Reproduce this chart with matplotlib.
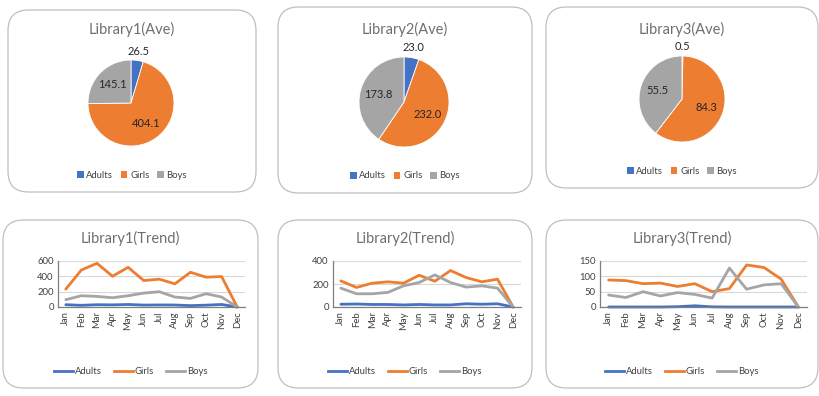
import matplotlib
matplotlib.use("Agg")
import matplotlib.pyplot as plt
import numpy as np
from matplotlib.patches import FancyBboxPatch, Patch
from matplotlib.lines import Line2D

plt.rcParams['font.family'] = ['Lato', 'DejaVu Sans']

W, H = 820, 396

series_names = ["Adults", "Girls", "Boys"]
colors = ["#4472C4", "#ED7D31", "#A5A5A5"]
months = ["Jan", "Feb", "Mar", "Apr", "May", "Jun", "Jul", "Aug", "Sep", "Oct", "Nov", "Dec"]

pie_titles = ["Library1(Ave)", "Library2(Ave)", "Library3(Ave)"]
lib1_ave = [26.5, 404.1, 145.1]
lib2_ave = [23.0, 232.0, 173.8]
lib3_ave = [0.5, 84.3, 55.5]

trend_titles = ["Library1(Trend)", "Library2(Trend)", "Library3(Trend)"]
lib1_adults = [30, 22, 30, 28, 33, 25, 27, 26, 18, 24, 33, 0]
lib1_girls = [233, 483, 570, 401, 518, 345, 363, 302, 453, 389, 397, 0]
lib1_boys = [95, 147, 138, 121, 147, 181, 199, 130, 112, 173, 130, 0]

lib2_adults = [24, 26, 22, 22, 18, 22, 18, 18, 28, 24, 28, 0]
lib2_girls = [227, 170, 207, 219, 207, 276, 224, 317, 256, 219, 242, 0]
lib2_boys = [164, 115, 115, 127, 184, 213, 279, 213, 173, 184, 164, 0]

lib3_adults = [0, 0, 0, 0, 1, 4, 0.5, 0, 0, 0, 0, 0]
lib3_girls = [88, 86, 76, 78, 67, 76, 50, 60, 137, 129, 91, 0]
lib3_boys = [39, 31, 50, 36, 47, 41, 29, 127, 58, 72, 76, 0]

y_ticks = [[0, 200, 400, 600], [0, 200, 400], [0, 50, 100, 150]]

fig = plt.figure(figsize=(W / 100, H / 100), dpi=100)
fig.patch.set_facecolor("white")

def rect(x, y, w, h):
    return [x / W, 1 - (y + h) / H, w / W, h / H]

def box(x, y, w, h):
    p = FancyBboxPatch((x / W, 1 - (y + h) / H), w / W, h / H,
                       boxstyle="round,pad=0,rounding_size=0.025",
                       transform=fig.transFigure, facecolor="white",
                       edgecolor="#BFBFBF", linewidth=0.9, mutation_aspect=W / H,
                       zorder=-10)
    fig.add_artist(p)

title_col = "#6f6f6f"
text_col = "#404040"

top_boxes = [(8, 10, 248, 182), (278, 7, 254, 186), (546, 7, 272, 181)]
bot_boxes = [(3, 220, 255, 168), (278, 220, 254, 168), (546, 220, 272, 168)]
for b in top_boxes + bot_boxes:
    box(*b)

# pies
pie_data = [lib1_ave, lib2_ave, lib3_ave]
pie_centers = [(131, 103, 43), (404, 102, 45), (682, 99, 43)]
for i in range(3):
    cx, cy, r = pie_centers[i]
    bx, by, bw, bh = top_boxes[i]
    fig.text((bx + bw / 2) / W, 1 - 29 / H, pie_titles[i], ha="center", va="center",
             fontsize=10.5, color=title_col)
    ax = fig.add_axes(rect(cx - r, cy - r, 2 * r, 2 * r))
    ax.patch.set_alpha(0)
    vals = pie_data[i]
    total = sum(vals)
    wedges, texts, autotexts = ax.pie(vals, colors=colors, startangle=90, counterclock=False,
                                      autopct=lambda p, t=total: f"{p * t / 100:.1f}",
                                      pctdistance=0.6, radius=1,
                                      wedgeprops=dict(linewidth=0.6, edgecolor="white"),
                                      textprops=dict(fontsize=8, color="#262626"))
    w0 = wedges[0]
    ang = np.deg2rad((w0.theta1 + w0.theta2) / 2)
    autotexts[0].set_position((1.22 * np.cos(ang), 1.22 * np.sin(ang)))
    ax.set_xlim(-1, 1)
    ax.set_ylim(-1, 1)
    ax.set_aspect("equal")
    ax.axis("off")
    handles = [Patch(facecolor=c, edgecolor="none") for c in colors]
    fig.legend(handles, series_names, loc="center", bbox_to_anchor=((bx + bw / 2) / W, 1 - (by + bh - 17) / H),
               ncol=3, frameon=False, fontsize=6.8, handlelength=0.7, handleheight=0.7,
               handletextpad=0.3, columnspacing=0.8, labelcolor=text_col)

# trends
trend_data = [(lib1_adults, lib1_girls, lib1_boys),
              (lib2_adults, lib2_girls, lib2_boys),
              (lib3_adults, lib3_girls, lib3_boys)]
plot_x = [(58, 245), (333, 521), (600, 807)]
for i in range(3):
    bx, by, bw, bh = bot_boxes[i]
    fig.text((bx + bw / 2) / W, 1 - 238 / H, trend_titles[i], ha="center", va="center",
             fontsize=10.5, color=title_col)
    x0, x1 = plot_x[i]
    ax = fig.add_axes(rect(x0, 261, x1 - x0, 307 - 261))
    ax.patch.set_alpha(0)
    xs = list(range(12))
    for s, c, name in zip(trend_data[i], colors, series_names):
        ax.plot(xs, s, color=c, linewidth=2.0, label=name, solid_capstyle="round", clip_on=False)
    ax.set_xlim(-0.5, 11.5)
    ax.set_ylim(0, y_ticks[i][-1])
    ax.set_yticks(y_ticks[i])
    ax.set_xticks(xs)
    ax.set_xticklabels(months, rotation=90)
    ax.tick_params(axis="both", labelsize=6.8, colors=text_col, length=0, pad=3)
    ax.grid(axis="y", color="#D9D9D9", linewidth=0.8)
    ax.set_axisbelow(True)
    for sp in ["top", "right"]:
        ax.spines[sp].set_visible(False)
    ax.spines["left"].set_color("#7f7f7f")
    ax.spines["bottom"].set_color("#7f7f7f")
    ax.spines["left"].set_linewidth(0.9)
    ax.spines["bottom"].set_linewidth(0.9)
    handles = [Line2D([0], [0], color=c, linewidth=2.0) for c in colors]
    fig.legend(handles, series_names, loc="center", bbox_to_anchor=((bx + bw / 2) / W, 1 - 372 / H),
               ncol=3, frameon=False, fontsize=6.8, handlelength=2.0,
               handletextpad=0.2, columnspacing=1.3, labelcolor=text_col)

fig.savefig("out.png", dpi=100, facecolor="white")
